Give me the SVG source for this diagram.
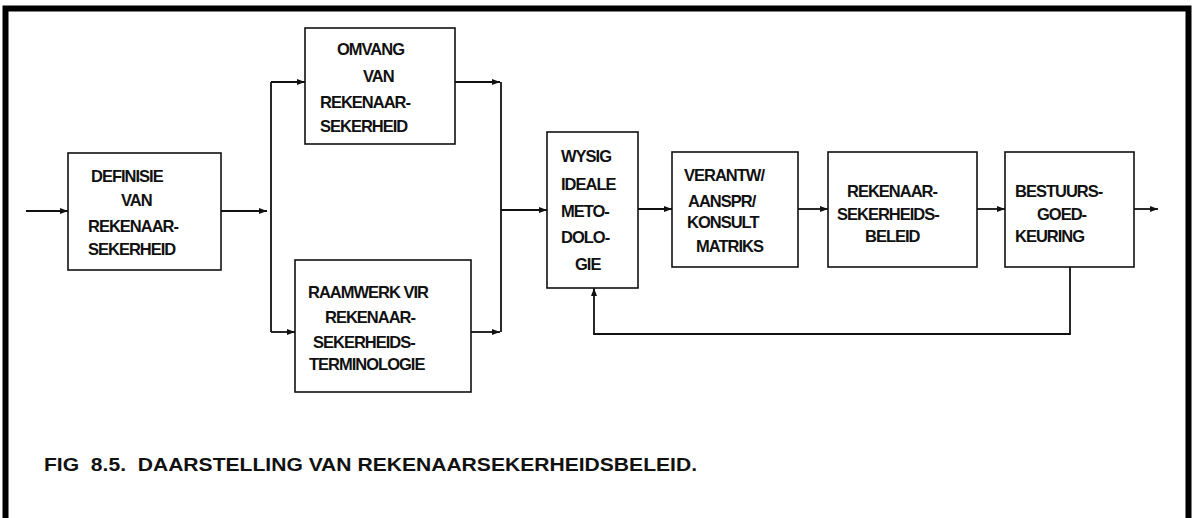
<svg xmlns="http://www.w3.org/2000/svg" width="1195" height="518" viewBox="0 0 1195 518">
<style>
.box{fill:#fff;stroke:#111;stroke-width:1.6}
.t{font-family:"Liberation Sans",Arial,sans-serif;font-weight:bold;font-size:16.5px;fill:#111;letter-spacing:-1px}
.cap{font-family:"Liberation Sans",Arial,sans-serif;font-weight:bold;font-size:19px;fill:#111}
.c{fill:none;stroke:#111;stroke-width:1.8}
</style>
<defs>
<marker id="ah" markerWidth="8" markerHeight="6" refX="8" refY="3" orient="auto" markerUnits="userSpaceOnUse">
<path d="M0,0 L8,3 L0,6 z" fill="#111"/>
</marker>
</defs>
<rect width="1195" height="518" fill="#fff"/>
<path d="M5.5,520 V8.5 H1188.5 V520" fill="none" stroke="#000" stroke-width="6"/>
<g id="connectors">
<path class="c" d="M26,211 H68" marker-end="url(#ah)"/>
<path class="c" d="M221,211 H267" marker-end="url(#ah)"/>
<path class="c" d="M271,82 V332"/>
<path class="c" d="M271,82 H305" marker-end="url(#ah)"/>
<path class="c" d="M271,332 H295" marker-end="url(#ah)"/>
<path class="c" d="M455,82 H500" marker-end="url(#ah)"/>
<path class="c" d="M471,332 H500" marker-end="url(#ah)"/>
<path class="c" d="M501,82 V332"/>
<path class="c" d="M501,210 H547" marker-end="url(#ah)"/>
<path class="c" d="M638,209 H672" marker-end="url(#ah)"/>
<path class="c" d="M798,209 H828" marker-end="url(#ah)"/>
<path class="c" d="M977,209 H1005" marker-end="url(#ah)"/>
<path class="c" d="M1134,209 H1158" marker-end="url(#ah)"/>
<path class="c" d="M1070,267 V334 H594 V288" marker-end="url(#ah)"/>
</g>
<g id="definisie">
<rect class="box" x="68" y="153" width="153" height="117"/>
<text class="t" x="91" y="182">DEFINISIE</text>
<text class="t" x="121" y="206">VAN</text>
<text class="t" x="88" y="232">REKENAAR-</text>
<text class="t" x="88" y="255">SEKERHEID</text>
</g>
<g id="omvang">
<rect class="box" x="305" y="28" width="150" height="116"/>
<text class="t" x="337" y="55">OMVANG</text>
<text class="t" x="363" y="82">VAN</text>
<text class="t" x="320" y="108">REKENAAR-</text>
<text class="t" x="320" y="132">SEKERHEID</text>
</g>
<g id="raamwerk">
<rect class="box" x="295" y="260" width="176" height="132"/>
<text class="t" x="308" y="298">RAAMWERK VIR</text>
<text class="t" x="325" y="323">REKENAAR-</text>
<text class="t" x="313" y="348">SEKERHEIDS-</text>
<text class="t" x="309" y="370">TERMINOLOGIE</text>
</g>
<g id="wysig">
<rect class="box" x="547" y="132" width="91" height="156"/>
<text class="t" x="561" y="162">WYSIG</text>
<text class="t" x="561" y="190">IDEALE</text>
<text class="t" x="561" y="217">METO-</text>
<text class="t" x="561" y="243">DOLO-</text>
<text class="t" x="575" y="270">GIE</text>
</g>
<g id="verantw">
<rect class="box" x="672" y="152" width="126" height="115"/>
<text class="t" x="684" y="181">VERANTW/</text>
<text class="t" x="688" y="207">AANSPR/</text>
<text class="t" x="687" y="228">KONSULT</text>
<text class="t" x="696" y="252">MATRIKS</text>
</g>
<g id="beleid">
<rect class="box" x="828" y="152" width="149" height="115"/>
<text class="t" x="847" y="197">REKENAAR-</text>
<text class="t" x="837" y="220">SEKERHEIDS-</text>
<text class="t" x="865" y="242">BELEID</text>
</g>
<g id="bestuurs">
<rect class="box" x="1005" y="152" width="129" height="115"/>
<text class="t" x="1015" y="197">BESTUURS-</text>
<text class="t" x="1037" y="220">GOED-</text>
<text class="t" x="1015" y="242">KEURING</text>
</g>
<text class="cap" x="44" y="471" textLength="653" lengthAdjust="spacingAndGlyphs" xml:space="preserve">FIG  8.5.  DAARSTELLING VAN REKENAARSEKERHEIDSBELEID.</text>
</svg>
